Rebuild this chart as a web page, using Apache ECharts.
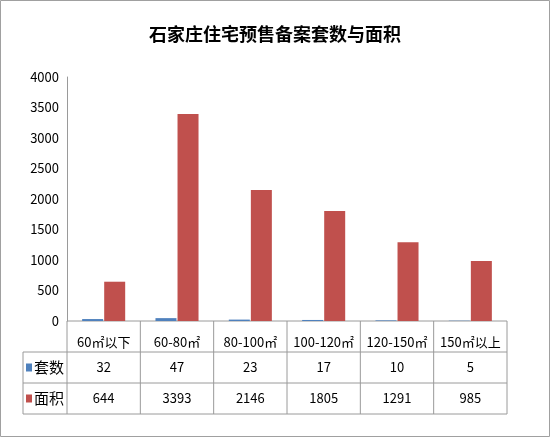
<!DOCTYPE html>
<html><head><meta charset="utf-8">
<script src="https://cdn.jsdelivr.net/npm/echarts@6/dist/echarts.min.js"></script>
<style>html,body{margin:0;padding:0;background:#fff}#c{width:550px;height:438px}</style>
</head><body><div id="c"></div>
<script>
const categories = ['60㎡以下', '60-80㎡', '80-100㎡', '100-120㎡', '120-150㎡', '150㎡以上']
const units = [32, 47, 23, 17, 10, 5]
const areas = [644, 3393, 2146, 1805, 1291, 985]
const seriesNames = ['套数', '面积']
const colors = ['#4f81bd', '#c0504d']

const L = 67, R = 507, T = 77, Z = 321, ROW = 31, LABW = 44
const cw = (R - L) / categories.length
const font = '"Noto Sans CJK SC", sans-serif'
const lineStyle = { stroke: '#9a9a9a', lineWidth: 1 }
const g = []
const hline = (x1, x2, y) => g.push({ type: 'line', shape: { x1, y1: y, x2, y2: y }, style: lineStyle, silent: true })
const vline = (x, y1, y2) => g.push({ type: 'line', shape: { x1: x, y1, x2: x, y2 }, style: lineStyle, silent: true })
hline(L, R, Z)
hline(L - LABW, R, Z + ROW)
hline(L - LABW, R, Z + 2 * ROW)
hline(L - LABW, R, Z + 3 * ROW)
vline(L - LABW, Z + ROW, Z + 3 * ROW)
for (let i = 0; i <= categories.length; i++) vline(L + i * cw, Z, Z + 3 * ROW)
;[units, areas].forEach((arr, r) => {
  const yc = Z + ROW * (r + 1.5)
  g.push({ type: 'rect', shape: { x: L - LABW + 3, y: yc - 4, width: 6, height: 8 }, style: { fill: colors[r] } })
  g.push({ type: 'text', x: L - LABW + 11, y: yc, style: { text: seriesNames[r], font: '15px ' + font, fill: '#000', verticalAlign: 'middle' } })
  arr.forEach((v, i) => g.push({ type: 'text', x: L + (i + 0.5) * cw, y: yc, style: { text: String(v), font: '13px ' + font, fill: '#000', align: 'center', verticalAlign: 'middle' } }))
})
g.push({ type: 'rect', shape: { x: 0.5, y: 0.5, width: 549, height: 436 }, style: { fill: 'none', stroke: '#a0a0a0' }, silent: true })

const chart = echarts.init(document.getElementById('c'))
chart.setOption({
  animation: false,
  title: { text: '石家庄住宅预售备案套数与面积', left: 'center', top: 20, textStyle: { fontFamily: font, fontSize: 18, fontWeight: 'bold', color: '#000' } },
  grid: { left: L, right: 550 - R, top: T, bottom: 438 - Z },
  xAxis: { type: 'category', data: categories, axisLine: { show: false }, axisTick: { show: false },
    axisLabel: { interval: 0, margin: 15, fontSize: 13, color: '#000', fontFamily: font } },
  yAxis: { type: 'value', min: 0, max: 4000, interval: 500, splitLine: { show: false },
    axisLine: { show: true, lineStyle: { color: '#9a9a9a' } }, axisTick: { show: false },
    axisLabel: { fontSize: 13, color: '#000', margin: 8, fontFamily: font, formatter: v => String(v) } },
  series: [
    { name: seriesNames[0], type: 'bar', data: units, barWidth: 21, barGap: '5%', itemStyle: { color: colors[0] } },
    { name: seriesNames[1], type: 'bar', data: areas, barWidth: 21, itemStyle: { color: colors[1] } }
  ],
  graphic: g
})
</script></body></html>
